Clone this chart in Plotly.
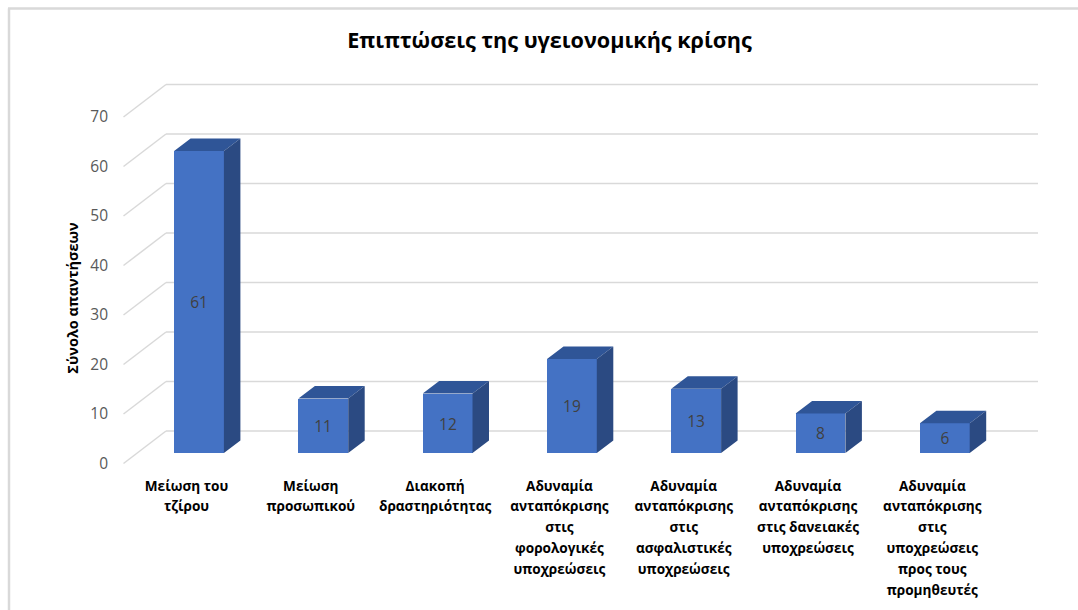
import plotly.graph_objects as go

categories = [
    "Μείωση του<br>τζίρου",
    "Μείωση<br>προσωπικού",
    "Διακοπή<br>δραστηριότητας",
    "Αδυναμία<br>ανταπόκρισης<br>στις<br>φορολογικές<br>υποχρεώσεις",
    "Αδυναμία<br>ανταπόκρισης<br>στις<br>ασφαλιστικές<br>υποχρεώσεις",
    "Αδυναμία<br>ανταπόκρισης<br>στις δανειακές<br>υποχρεώσεις",
    "Αδυναμία<br>ανταπόκρισης<br>στις<br>υποχρεώσεις<br>προς τους<br>προμηθευτές",
]
values = [61, 11, 12, 19, 13, 8, 6]
y_ticks = [0, 10, 20, 30, 40, 50, 60, 70]

W, H = 1078, 610
PX_CAT, PX_VAL = 124.3, 4.95      # px per category, px per value unit
X0_PX, Y0_PX = 186.5, 463.5       # pixel of category 0, of value 0 on the tick labels
FONT = "Open Sans"

# oblique projection, expressed in axis units
wall_dx, wall_dy = 42.5 / PX_CAT, 32.5 / PX_VAL
floor_y = (Y0_PX - 463.5) / PX_VAL
bar_dx, bar_dy = 16.5 / PX_CAT, 12.5 / PX_VAL
bar_off, bar_w = 12.5 / PX_CAT, 49.8 / PX_CAT
bar_base = (Y0_PX - 453) / PX_VAL
xl, xr = (123.5 - X0_PX) / PX_CAT, (995.5 - X0_PX) / PX_CAT

grid_shapes = []
for t in y_ticks:
    yf, yb = t + floor_y, t + floor_y + wall_dy
    for x_a, y_a, x_b, y_b in [(xl, yf, xl + wall_dx, yb), (xl + wall_dx, yb, xr + wall_dx, yb)]:
        grid_shapes.append(dict(type="line", xref="x", yref="y", layer="below",
                                x0=x_a, y0=y_a, x1=x_b, y1=y_b,
                                line=dict(color="#D9D9D9", width=1.5)))
# chart frame
grid_shapes.append(dict(type="line", xref="paper", yref="paper", x0=8/W, x1=1, y0=1-8.5/H, y1=1-8.5/H,
                        line=dict(color="#D9D9D9", width=2.5)))
grid_shapes.append(dict(type="line", xref="paper", yref="paper", x0=9/W, x1=9/W, y0=0, y1=1-8.5/H,
                        line=dict(color="#D9D9D9", width=2.5)))

top_x, top_y, side_x, side_y = [], [], [], []
for i, v in enumerate(values):
    a, b = i + bar_off - bar_w / 2, i + bar_off + bar_w / 2
    y0, y1 = bar_base, bar_base + v
    top_x += [a, b, b + bar_dx, a + bar_dx, a, None]
    top_y += [y1, y1, y1 + bar_dy, y1 + bar_dy, y1, None]
    side_x += [b, b + bar_dx, b + bar_dx, b, b, None]
    side_y += [y0, y0 + bar_dy, y1 + bar_dy, y1, y0, None]

fig = go.Figure()
fig.add_bar(x=[i + bar_off for i in range(len(values))], y=values, base=bar_base, width=bar_w,
            marker=dict(color="#4472C4", line=dict(width=0)),
            text=[str(v) for v in values], textposition="inside", insidetextanchor="middle",
            textangle=0, constraintext="none",
            textfont=dict(family=FONT, size=15.5, color="#404040"), hoverinfo="skip")
fig.add_scatter(x=top_x, y=top_y, mode="lines", fill="toself", fillcolor="#2F5597",
                line=dict(width=0), hoverinfo="skip")
fig.add_scatter(x=side_x, y=side_y, mode="lines", fill="toself", fillcolor="#2B4A82",
                line=dict(width=0), hoverinfo="skip")

tick_text = [f'<span style="font-size:13.6px">{c}</span>' for c in categories]

DOMAIN_BOTTOM_PX = 596   # centres the axis title on its place in the picture
fig.update_layout(
    width=W, height=H, margin=dict(l=0, r=0, t=0, b=0), autosize=False,
    paper_bgcolor="white", plot_bgcolor="rgba(0,0,0,0)", showlegend=False, bargap=0,
    shapes=grid_shapes,
    title=dict(text="Επιπτώσεις της υγειονομικής κρίσης", x=549.5/W, xanchor="center", y=1-40/H, yanchor="middle",
               font=dict(family=FONT, size=21.6, color="#000000", weight="bold")),
    xaxis=dict(domain=[0, 1], range=[-X0_PX / PX_CAT, (W - X0_PX) / PX_CAT], anchor="free",
               position=1 - 473.5 / H, tickmode="array", tickvals=list(range(len(categories))), ticktext=tick_text,
               tickangle=0, ticks="", showgrid=False, zeroline=False, showline=False,
               tickfont=dict(family=FONT, size=16, color="#000000", weight="bold")),
    yaxis=dict(domain=[1 - DOMAIN_BOTTOM_PX / H, 1],
               range=[(Y0_PX - DOMAIN_BOTTOM_PX) / PX_VAL, Y0_PX / PX_VAL], anchor="free",
               position=108 / W, tickmode="array", tickvals=y_ticks, ticks="", showgrid=False,
               zeroline=False, showline=False,
               tickfont=dict(family=FONT, size=15.5, color="#595959"),
               title=dict(text="Σύνολο απαντήσεων", standoff=7,
                          font=dict(family=FONT, size=14.5, color="#000000", weight="bold"))),
)

fig.write_html("out.html", config=dict(displayModeBar=False),
               post_script="document.body.style.margin='0';")
